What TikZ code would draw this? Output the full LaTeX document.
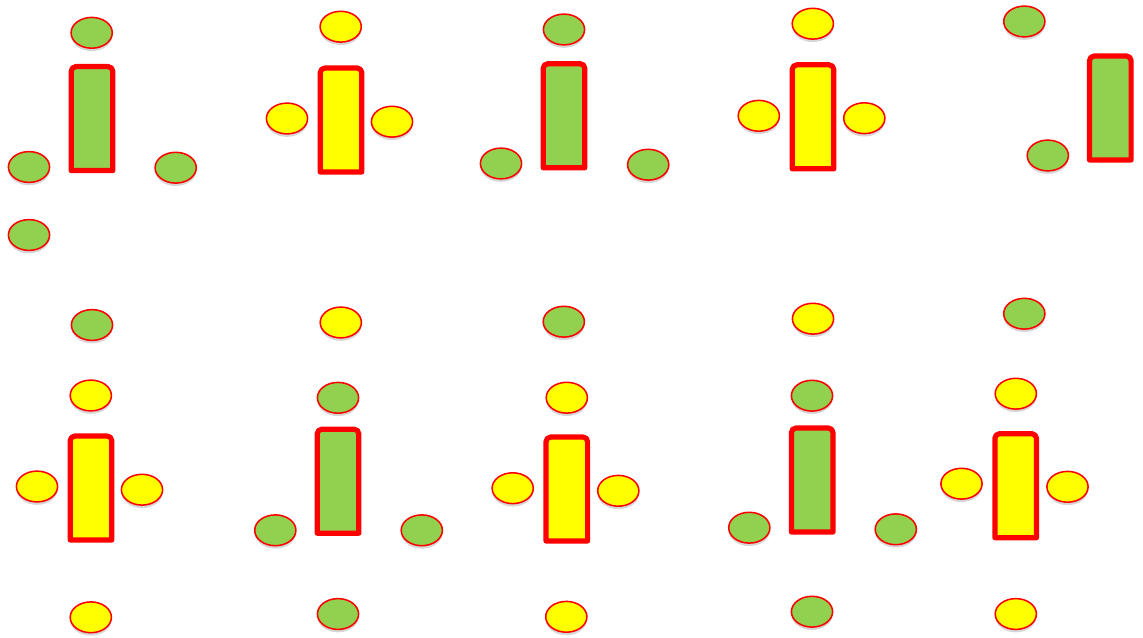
\documentclass[tikz,border=0pt]{standalone}
\usetikzlibrary{shapes.geometric,shadows}
\definecolor{grn}{HTML}{92D050}
\definecolor{ylw}{HTML}{FFFF00}
\definecolor{rd}{HTML}{FF0000}
\tikzset{
  dot/.style={ellipse, draw=rd, line width=1.15pt, minimum width=30.9pt,
    minimum height=23.1pt, inner sep=0pt,
    general shadow={fill=black!16, shadow yshift=-2.2pt}},
  gdot/.style={dot, fill=grn},
  ydot/.style={dot, fill=ylw},
  barnode/.style={rectangle, minimum width=31.2pt, minimum height=78pt,
    inner sep=0pt, outer sep=0pt},
  barline/.style={draw=rd, line width=3.9pt, line join=round},
}
% name, cx, cy (from top, px), fill colour
\newcommand\barbox[4]{%
  \node[barnode] (#1) at (#2,{637-#3}) {};
  \draw[barline, fill=#4] (#1.south west) -- ([yshift=-3.5pt]#1.north west)
    arc[start angle=180, end angle=90, radius=3.5pt]
    -- ([xshift=-3.5pt]#1.north east)
    arc[start angle=90, end angle=0, radius=3.5pt]
    -- (#1.south east) -- cycle;
}
\begin{document}
\begin{tikzpicture}[x=0.75pt,y=0.75pt]
\useasboundingbox (0,0) rectangle (1143,637);

% ---- top row ----
% group 1
\barbox{aBar}{92}{118.6}{grn}
\node[gdot] (aT) at (91.7,{637-32.8}) {};
\node[gdot] (aL) at (29,{637-167}) {};
\node[gdot] (aR) at (175.7,{637-167.7}) {};
\node[gdot] (aB) at (29,{637-235}) {};
% group 2
\barbox{bBar}{341}{120}{ylw}
\node[ydot] (bT) at (340.7,{637-26.7}) {};
\node[ydot] (bL) at (287,{637-118.5}) {};
\node[ydot] (bR) at (392,{637-121.7}) {};
% group 3
\barbox{cBar}{564}{115.7}{grn}
\node[gdot] (cT) at (564,{637-29.5}) {};
\node[gdot] (cL) at (501,{637-163.5}) {};
\node[gdot] (cR) at (648.2,{637-164.7}) {};
% group 4
\barbox{dBar}{813}{116.8}{ylw}
\node[ydot] (dT) at (812.8,{637-23.7}) {};
\node[ydot] (dL) at (758.8,{637-115.8}) {};
\node[ydot] (dR) at (864.3,{637-118.2}) {};
% group 5
\barbox{eBar}{1110.3}{108}{grn}
\node[gdot] (eT) at (1024.3,{637-21.5}) {};
\node[gdot] (eL) at (1047.8,{637-155.5}) {};

% ---- bottom row ----
% group 6
\barbox{fBar}{91}{488}{ylw}
\node[gdot] (fTT) at (92,{637-325}) {};
\node[ydot] (fT) at (90.8,{637-395.5}) {};
\node[ydot] (fL) at (37,{637-486.5}) {};
\node[ydot] (fR) at (142,{637-489.7}) {};
\node[ydot] (fB) at (90.8,{637-617.3}) {};
% group 7
\barbox{gBar}{338}{481.2}{grn}
\node[ydot] (gTT) at (340.8,{637-322.5}) {};
\node[gdot] (gT) at (338,{637-397.8}) {};
\node[gdot] (gL) at (275.3,{637-530.3}) {};
\node[gdot] (gR) at (421.8,{637-530.3}) {};
\node[gdot] (gB) at (338,{637-614}) {};
% group 8
\barbox{hBar}{566.8}{489}{ylw}
\node[gdot] (hTT) at (563.8,{637-321.7}) {};
\node[ydot] (hT) at (566.8,{637-397.7}) {};
\node[ydot] (hL) at (512.7,{637-488.2}) {};
\node[ydot] (hR) at (618.3,{637-490.8}) {};
\node[ydot] (hB) at (566.3,{637-616.8}) {};
% group 9
\barbox{iBar}{812.2}{480}{grn}
\node[ydot] (iTT) at (813,{637-318.7}) {};
\node[gdot] (iT) at (812,{637-395.7}) {};
\node[gdot] (iL) at (749.3,{637-527.7}) {};
\node[gdot] (iR) at (895.8,{637-529.3}) {};
\node[gdot] (iB) at (812,{637-611.7}) {};
% group 10
\barbox{jBar}{1015.7}{485.7}{ylw}
\node[gdot] (jTT) at (1024.3,{637-313.7}) {};
\node[ydot] (jT) at (1015.8,{637-393.7}) {};
\node[ydot] (jL) at (961.5,{637-483.7}) {};
\node[ydot] (jR) at (1067.5,{637-486.8}) {};
\node[ydot] (jB) at (1015.8,{637-614}) {};
\end{tikzpicture}
\end{document}
